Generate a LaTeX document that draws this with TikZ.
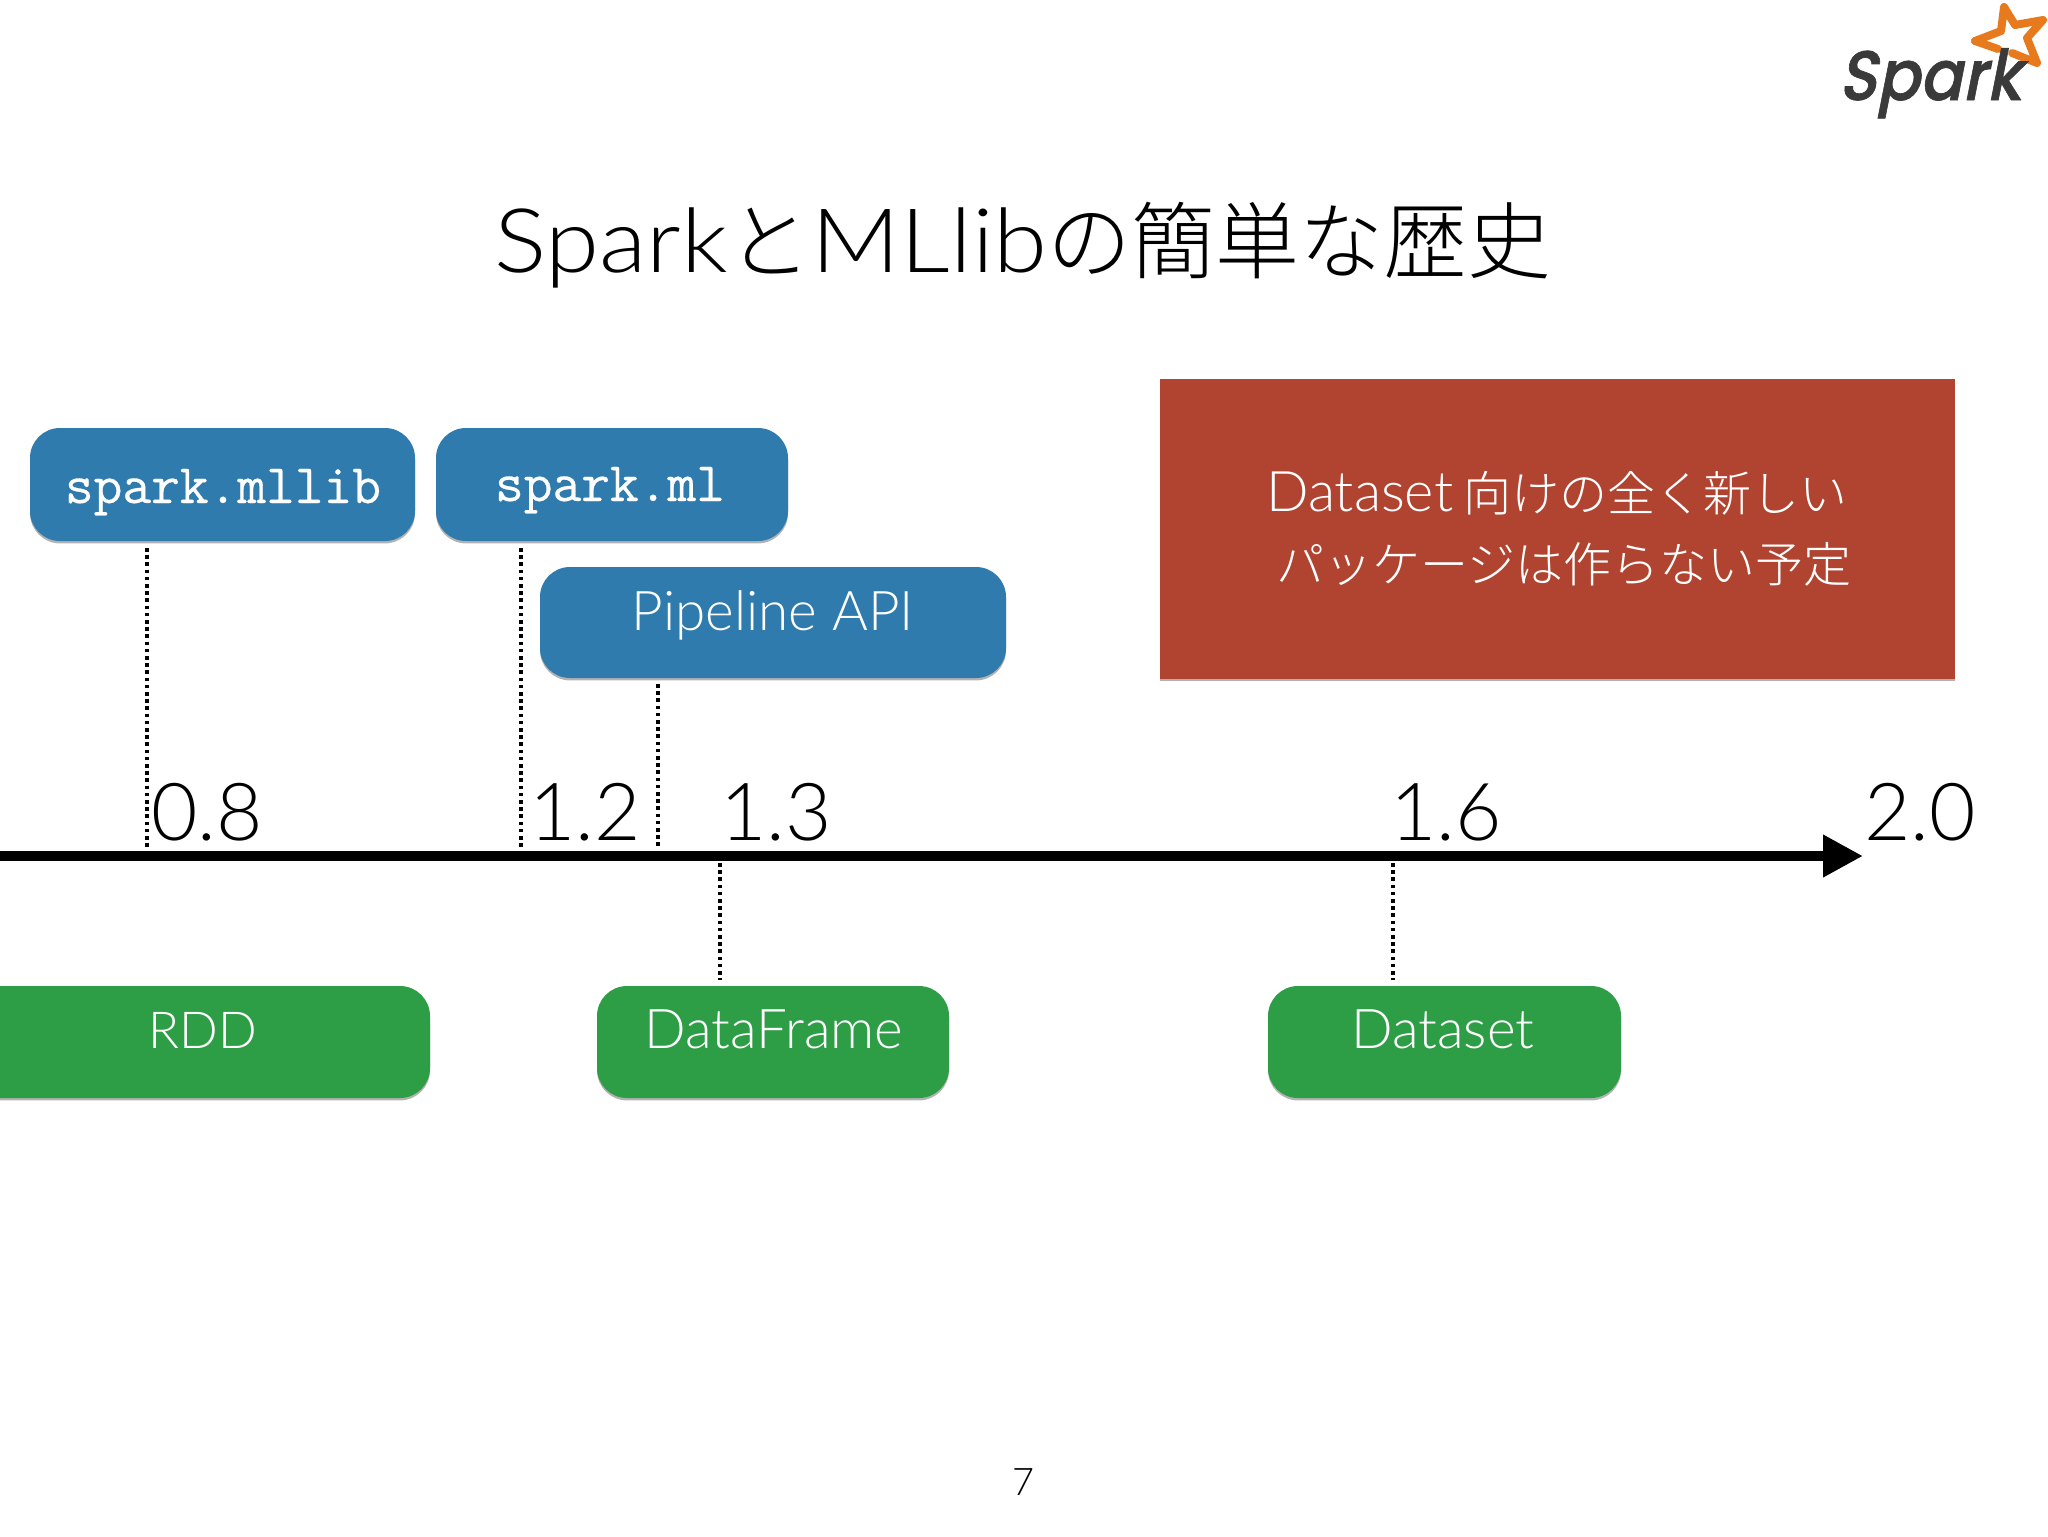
\documentclass[tikz,border=0pt]{standalone}
\usepackage{fontspec}
\usetikzlibrary{arrows.meta,shadows}
\IfFontExistsTF{Lato Light}{\setmainfont{Lato Light}\newfontfamily\titlelatin[FakeStretch=1.1]{Lato Light}}{\setmainfont{TeX Gyre Heros}\newfontfamily\titlelatin{TeX Gyre Heros}}
\IfFontExistsTF{Noto Sans CJK JP Light}{\newfontfamily\jp{Noto Sans CJK JP Light}}{\newfontfamily\jp{Noto Sans CJK JP}}
\IfFontExistsTF{Poppins Medium}{\newfontfamily\logofont[FakeSlant=0.22,FakeBold=1]{Poppins Medium}}{\newfontfamily\logofont[FakeSlant=0.22,FakeBold=1]{Poppins}}
\newfontfamily\codefont[FakeBold=0.5]{Latin Modern Mono}
\definecolor{bluebox}{RGB}{47,123,174}
\definecolor{greenbox}{RGB}{45,158,70}
\definecolor{redbox}{RGB}{176,68,48}
\definecolor{logodark}{RGB}{58,58,58}
\definecolor{logoorange}{RGB}{232,122,30}
\tikzset{
  x=0.5pt,y=-0.5pt,
  softshadow/.style={drop shadow={shadow xshift=0pt,shadow yshift=-1.2pt,fill=black,opacity=0.3}},
  pill/.style={rounded corners=15pt,softshadow,inner sep=0pt},
  bluepill/.style={pill,fill=bluebox},
  greenpill/.style={pill,fill=greenbox},
  label/.style={anchor=base,inner sep=0pt,text=white,font=\fontsize{27.4}{30}\selectfont},
  codelabel/.style={anchor=base,inner sep=0pt,text=white,font=\fontsize{27.9}{30}\codefont},
  ver/.style={anchor=base,inner sep=0pt,font=\fontsize{40}{48}\selectfont},
  notelabel/.style={anchor=base,inner sep=0pt,text=white,font=\fontsize{24}{30}\jp},
  dots/.style={line width=2pt,dash pattern=on 1.8pt off 1.8pt},
  axisline/.style={line width=5pt,-{Triangle[length=20pt,width=20pt]}},
}
\begin{document}
\begin{tikzpicture}
\useasboundingbox (0,0) rectangle (2048,1536);
\clip (0,0) rectangle (2048,1536);
% boxes
\fill[bluepill] (30,428) rectangle (415,541);
\fill[bluepill] (436,428) rectangle (788,541);
\fill[bluepill] (540,567) rectangle (1006,678);
\fill[greenpill] (-30,986) rectangle (430,1098);
\fill[greenpill] (597,986) rectangle (949,1098);
\fill[greenpill] (1268,986) rectangle (1621,1098);
\fill[fill=redbox,softshadow] (1160,379) rectangle (1955,679);
% title
\node[anchor=base,inner sep=0pt,font=\fontsize{42}{48}\jp] (title) at (1023,272)
  {{\fontsize{44.5}{48}\titlelatin Spark}と{\fontsize{44.5}{48}\titlelatin MLlib}の簡単な歴史};
% labels
\node[codelabel] (mllib) at (223,503) {spark.mllib};
\node[codelabel] (ml) at (610,501) {spark.ml};
\node[label] (pipeline) at (773,630) {Pipeline API};
\node[label,font=\fontsize{25.5}{30}\selectfont] (rdd) at (203,1048) {RDD};
\node[label] (dataframe) at (774,1048) {DataFrame};
\node[label] (dataset) at (1443,1048) {Dataset};
\node[notelabel] (note1) at (1557,511) {{\fontsize{28}{30}\rmfamily Dataset} 向けの全く新しい};
\node[notelabel] (note2) at (1564,582) {パッケージは作らない予定};
% versions
\node[ver] (v08) at (207,840) {0.8};
\node[ver] (v12) at (585,840) {1.2};
\node[ver] (v13) at (776,840) {1.3};
\node[ver] (v16) at (1446,840) {1.6};
\node[ver] (v20) at (1920,840) {2.0};
% axis
\coordinate (axL) at (-10,856);
\coordinate (axR) at (1863,856);
\draw[axisline] (axL) -- (axR);
% dotted guides
\coordinate (d1a) at (146.5,548); \coordinate (d1b) at (146.5,849);
\coordinate (d2a) at (521,548);   \coordinate (d2b) at (521,849);
\coordinate (d3a) at (658,684);   \coordinate (d3b) at (658,849);
\coordinate (d4a) at (720,863);   \coordinate (d4b) at (720,980);
\coordinate (d5a) at (1393,863);  \coordinate (d5b) at (1393,980);
\draw[dots] (d1a) -- (d1b);
\draw[dots] (d2a) -- (d2b);
\draw[dots] (d3a) -- (d3b);
\draw[dots] (d4a) -- (d4b);
\draw[dots] (d5a) -- (d5b);
% page number
\node[anchor=base,inner sep=0pt,font=\fontsize{19}{22}\selectfont] (page) at (1024,1495) {7};
% logo
\draw[logoorange,line width=4pt,line join=round,line cap=round]
  (1975,41) -- (2001,31) -- (2004,7) -- (2015,25) -- (2043,20) -- (2027,38) -- (2037,63) -- (2012,53);
\draw[logoorange,line width=4pt,line join=round,line cap=round]
  (1975,41) -- (1998,49);
\node[anchor=base,inner sep=0pt,text=logodark,font=\fontsize{35}{40}\logofont] (logo) at (1930,100) {\scalebox{0.9}[1]{Spark}};
\end{tikzpicture}
\end{document}
